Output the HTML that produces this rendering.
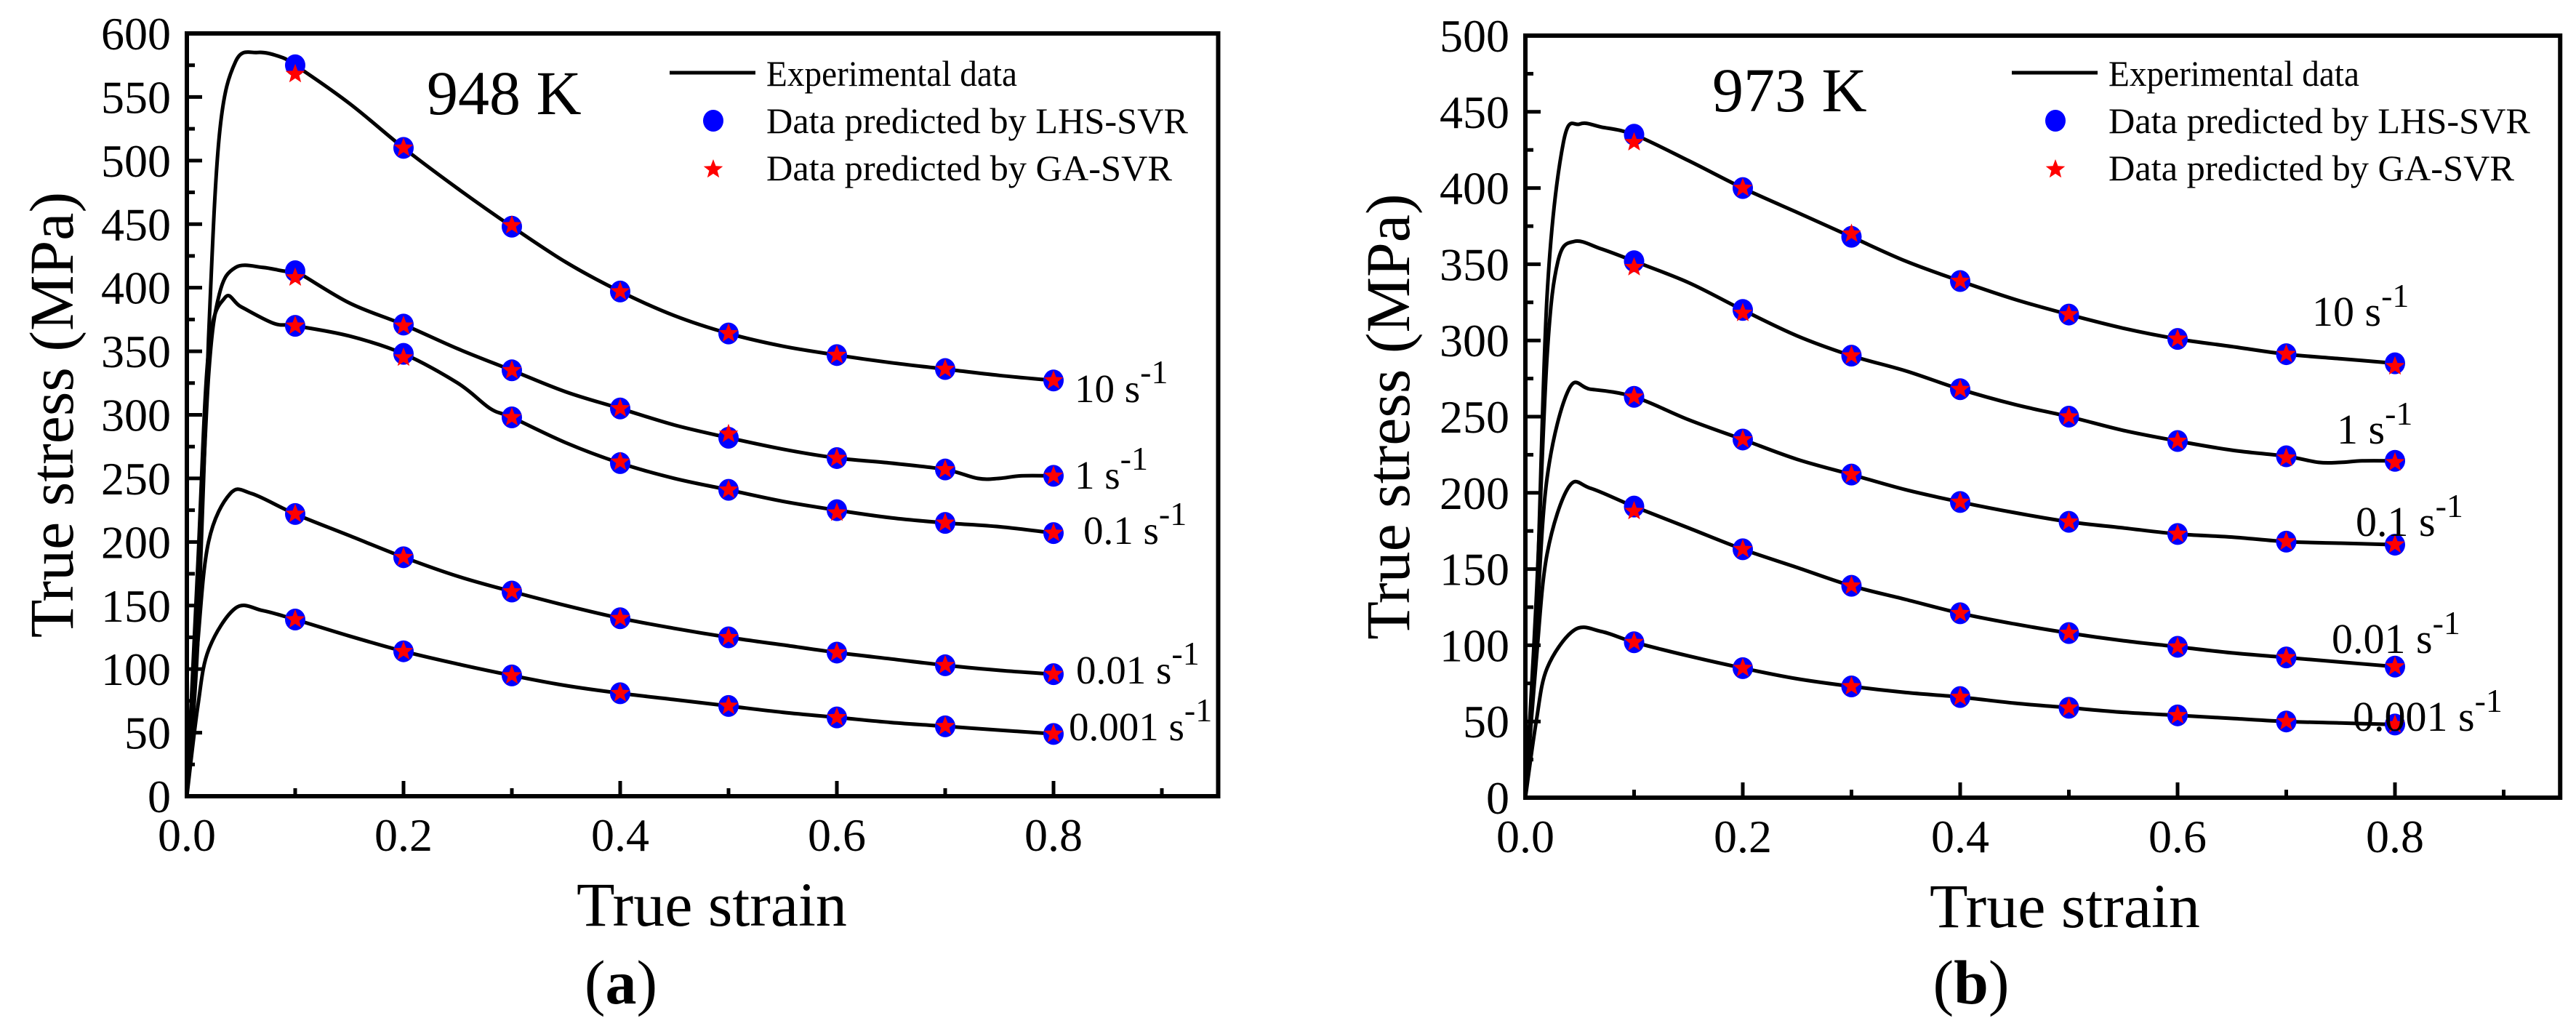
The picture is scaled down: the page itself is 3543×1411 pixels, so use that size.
<!DOCTYPE html>
<html><head><meta charset="utf-8"><style>
html,body{margin:0;padding:0;background:#fff;}
svg{display:block;font-family:"Liberation Serif",serif;}
</style></head><body>
<svg id="fig" width="3543" height="1411" viewBox="0 0 3543 1411" xmlns="http://www.w3.org/2000/svg"></svg>
<script>
// ---------- data: panel (a) 948 K ----------
const rateLabels = ["10 s", "1 s", "0.1 s", "0.01 s", "0.001 s"];
const predStrain = [0.1,0.2,0.3,0.4,0.5,0.6,0.7,0.8];
const aCurveStrain = [
 [0,0.01,0.02,0.03,0.045,0.065,0.085,0.1,0.15,0.2,0.25,0.3,0.35,0.4,0.45,0.5,0.55,0.6,0.65,0.7,0.75,0.8],
 [0,0.01,0.02,0.03,0.045,0.07,0.09,0.1,0.15,0.2,0.25,0.3,0.35,0.4,0.45,0.5,0.55,0.6,0.65,0.7,0.73,0.75,0.77,0.8],
 [0,0.01,0.02,0.035,0.05,0.08,0.1,0.15,0.2,0.25,0.28,0.3,0.35,0.4,0.45,0.5,0.55,0.6,0.65,0.7,0.75,0.8],
 [0,0.01,0.02,0.04,0.06,0.1,0.15,0.2,0.25,0.3,0.35,0.4,0.45,0.5,0.55,0.6,0.65,0.7,0.75,0.8],
 [0,0.01,0.02,0.045,0.07,0.1,0.15,0.2,0.25,0.3,0.35,0.4,0.45,0.5,0.55,0.6,0.65,0.7,0.75,0.8]
];
const aCurveStress = [
 [0,120,360,520,578,585,582,575,545,510,478,448,420,397,378,364,354,347,341,336,331,327],
 [0,150,330,395,416,416,413,413,388,371,352,335,318,305,292,282,273,266,262,257,250,250,252,252],
 [0,180,350,392,385,372,370,362,348,325,305,298,278,262,250,241,232,225,219,215,212,207],
 [0,120,200,238,238,222,205,188,173,161,150,140,132,125,119,113,108,103,99,96],
 [0,70,115,148,146,139,126,114,104,95,87,81,76,71,66,62,58,55,52,49]
];
const aLhs = [
 [575,510,448,397,364,347,336,327],
 [413,371,335,305,282,266,257,252],
 [370,348,298,262,241,225,215,207],
 [222,188,161,140,125,113,103,96],
 [139,114,95,81,71,62,55,49]
];
const aGa = [
 [568,510,449,397,364,347,336,327],
 [408,370,335,305,285,266,257,252],
 [370,345,298,263,241,223,215,207],
 [222,188,161,140,125,113,103,96],
 [139,114,95,81,71,62,55,49]
];
// ---------- data: panel (b) 973 K ----------
const bCurveStrain = [
 [0,0.01,0.02,0.035,0.05,0.07,0.1,0.15,0.2,0.25,0.3,0.35,0.4,0.45,0.5,0.55,0.6,0.65,0.7,0.75,0.8],
 [0,0.01,0.02,0.03,0.045,0.07,0.1,0.15,0.2,0.25,0.3,0.35,0.4,0.45,0.5,0.55,0.6,0.65,0.7,0.73,0.75,0.77,0.8],
 [0,0.01,0.02,0.04,0.06,0.1,0.15,0.2,0.25,0.3,0.35,0.4,0.45,0.5,0.55,0.6,0.65,0.7,0.75,0.8],
 [0,0.01,0.02,0.04,0.06,0.1,0.15,0.2,0.25,0.3,0.35,0.4,0.45,0.5,0.55,0.6,0.65,0.7,0.75,0.8],
 [0,0.01,0.02,0.045,0.07,0.1,0.15,0.2,0.25,0.3,0.35,0.4,0.45,0.5,0.55,0.6,0.65,0.7,0.75,0.8]
];
const bCurveStress = [
 [0,120,330,430,442,440,435,418,400,384,368,352,339,327,317,308,301,296,291,288,285],
 [0,130,290,352,365,360,352,338,320,303,290,280,268,258,250,241,234,228,224,220,220,221,221],
 [0,110,210,268,268,263,248,235,222,212,202,194,187,181,177,173,171,168,167,166],
 [0,90,160,204,203,191,177,163,151,139,130,121,114,108,103,99,95,92,89,86],
 [0,50,85,110,109,102,93,85,78,73,69,66,62,59,56,54,52,50,49,48]
];
const bLhs = [
 [435,400,368,339,317,301,291,285],
 [352,320,290,268,250,234,224,221],
 [263,235,212,194,181,173,168,166],
 [191,163,139,121,108,99,92,86],
 [102,85,73,66,59,54,50,48]
];
const bGa = [
 [430,400,370,339,317,301,291,283],
 [348,318,290,268,250,234,223,220],
 [263,235,212,194,181,173,168,166],
 [188,163,139,121,108,99,92,86],
 [102,85,73,66,59,54,50,48]
];
const xTicks = ["0.0","0.2","0.4","0.6","0.8"];
const xTickVals = [0,0.2,0.4,0.6,0.8];
const aYTicks = [0,50,100,150,200,250,300,350,400,450,500,550,600];
const bYTicks = [0,50,100,150,200,250,300,350,400,450,500];

const NS="http://www.w3.org/2000/svg";
const svg=document.getElementById('fig');
function mk(tag,attrs,parent){const e=document.createElementNS(NS,tag);for(const k in attrs)e.setAttribute(k,attrs[k]);(parent||svg).appendChild(e);return e;}

function smoothPath(pts){
  let d="M"+pts[0][0].toFixed(1)+","+pts[0][1].toFixed(1);
  for(let i=0;i<pts.length-1;i++){
    const p0=pts[Math.max(0,i-1)],p1=pts[i],p2=pts[i+1],p3=pts[Math.min(pts.length-1,i+2)];
    const c1=[p1[0]+(p2[0]-p0[0])/6,p1[1]+(p2[1]-p0[1])/6];
    const c2=[p2[0]-(p3[0]-p1[0])/6,p2[1]-(p3[1]-p1[1])/6];
    d+=" C"+c1[0].toFixed(1)+","+c1[1].toFixed(1)+" "+c2[0].toFixed(1)+","+c2[1].toFixed(1)+" "+p2[0].toFixed(1)+","+p2[1].toFixed(1);
  }
  return d;
}
function starPts(cx,cy,R){const r=R*0.42;let s=[];for(let i=0;i<10;i++){const a=-Math.PI/2+i*Math.PI/5;const rr=i%2?r:R;s.push((cx+rr*Math.cos(a)).toFixed(1)+","+(cy+rr*Math.sin(a)).toFixed(1));}return s.join(" ");}

function panel(cfg){
  const g=mk('g',{});
  
  
  const X=v=>cfg.x0+(v-0)*(cfg.x1-cfg.x0)/0.8;
  const Y=v=>cfg.y0-v*(cfg.y0-cfg.yTop)/cfg.yMax;
  const xRight=X(0.952);
  cfg.cs.forEach((sx,i)=>{
    const pts=sx.map((s,j)=>[X(s),Y(cfg.cv[i][j])]);
    const p=mk('path',{d:smoothPath(pts),fill:'none',stroke:'#000','stroke-width':5,'stroke-linejoin':'round'},g);
    
    
  });
  cfg.lhs.forEach((arr,i)=>{
    arr.forEach((v,j)=>{
      const c=mk('ellipse',{cx:X(predStrain[j]),cy:Y(v),rx:14,ry:15,fill:'#0000ff'},g);
      
      
    });
  });
  cfg.ga.forEach((arr,i)=>{
    arr.forEach((v,j)=>{
      const s=mk('polygon',{points:starPts(X(predStrain[j]),Y(v),14),fill:'#ff0000'},g);
      
      
    });
  });
  const fr=mk('rect',{x:cfg.x0,y:cfg.yTop,width:xRight-cfg.x0,height:cfg.y0-cfg.yTop,fill:'none',stroke:'#000','stroke-width':6},g);
  
  
  cfg.yTicks.forEach(v=>{
    const t=mk('line',{x1:cfg.x0,x2:cfg.x0+21,y1:Y(v),y2:Y(v),stroke:'#000','stroke-width':5},g);
    
    
    if(v<cfg.yMax){
      const m=mk('line',{x1:cfg.x0,x2:cfg.x0+11,y1:Y(v+25),y2:Y(v+25),stroke:'#000','stroke-width':5},g);
      
      
    }
    const l=mk('text',{x:cfg.x0-22,y:Y(v)+22,'font-size':64,'text-anchor':'end'},g);
    l.textContent=v;
    
    
  });
  for(let k=1;k<=9;k++){
    const v=k/10;const major=k%2===0;
    const t=mk('line',{x1:X(v),x2:X(v),y1:cfg.y0,y2:cfg.y0-(major?21:11),stroke:'#000','stroke-width':5},g);
    
    
  }
  xTicks.forEach((s,i)=>{
    const l=mk('text',{x:X(xTickVals[i]),y:cfg.y0+75,'font-size':64,'text-anchor':'middle'},g);
    l.textContent=s;
    
    
  });
  const yt=mk('text',{x:0,y:0,'font-size':86,'text-anchor':'middle',transform:`translate(${cfg.ytX},${(cfg.y0+cfg.yTop)/2}) rotate(-90)`},g);
  yt.textContent='True stress (MPa)';
  
  
  const xt=mk('text',{x:cfg.xtX,y:cfg.y0+178,'font-size':86,'text-anchor':'middle'},g);
  xt.textContent='True strain';
  
  
  const pl=mk('text',{x:cfg.plX,y:1380,'font-size':86,'text-anchor':'middle'},g);
  pl.innerHTML='(<tspan font-weight="bold">'+cfg.letter+'</tspan>)';
  
  
  const tt=mk('text',{x:cfg.tX,y:cfg.tY,'font-size':86},g);
  tt.textContent=cfg.temp;
  
  
  rateLabels.forEach((s,i)=>{
    const t=mk('text',{x:cfg.rl[i][0],y:cfg.rl[i][1],'font-size':cfg.rfs},g);
    t.innerHTML=s+'<tspan dy="-26" font-size="46">-1</tspan>';
    
    
  });
  const lg=mk('g',{},g);
  
  
  const ll=mk('line',{x1:cfg.lgX,x2:cfg.lgX+118,y1:100,y2:100,stroke:'#000','stroke-width':5},lg);
  
  
  const lc=mk('ellipse',{cx:cfg.lgX+60,cy:166,rx:14,ry:15,fill:'#0000ff'},lg);
  
  
  const ls=mk('polygon',{points:starPts(cfg.lgX+60,233,14),fill:'#ff0000'},lg);
  
  
  const texts=[['Experimental data',118,345],['Data predicted by LHS-SVR',183,580],['Data predicted by GA-SVR',248,558]];
  texts.forEach(([s,y,w])=>{
    const t=mk('text',{x:cfg.lgX+133,y:y,'font-size':50,textLength:w,lengthAdjust:'spacingAndGlyphs'},lg);
    t.textContent=s;
    
    
  });
}

panel({name:'panel-a-948k',x0:257,x1:1449,y0:1095,yTop:46,yMax:600,yTicks:aYTicks,
  cs:aCurveStrain,cv:aCurveStress,lhs:aLhs,ga:aGa,ytX:100,xtX:979,plX:854,letter:'a',
  temp:'948 K',tX:587,tY:157,lgX:921,rfs:55,
  rl:[[1478,553],[1478,672],[1490,748],[1480,940],[1470,1018]]});
panel({name:'panel-b-973k',x0:2098,x1:3294,y0:1097,yTop:49,yMax:500,yTicks:bYTicks,
  cs:bCurveStrain,cv:bCurveStress,lhs:bLhs,ga:bGa,ytX:1938,xtX:2840,plX:2711,letter:'b',
  temp:'973 K',tX:2355,tY:153,lgX:2767,rfs:58,
  rl:[[3180,448],[3214,610],[3240,737],[3207,898],[3236,1005]]});
</script>
</body></html>
